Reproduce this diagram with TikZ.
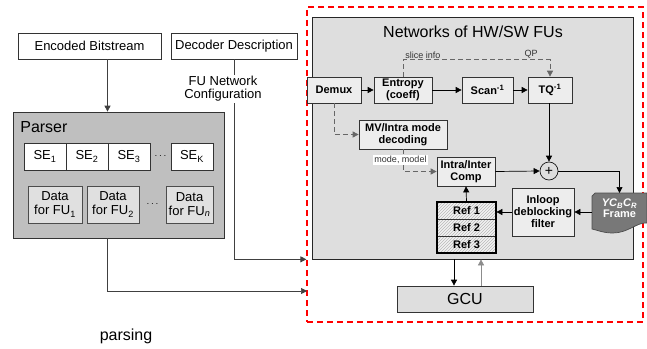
\documentclass[tikz,border=0pt]{standalone}
\usepackage{fontspec}
\setmainfont{Liberation Sans}
\usetikzlibrary{arrows.meta,patterns}
\tikzset{
  arr/.style={-{Triangle[length=6pt,width=6pt]}},
  dsh/.style={dash pattern=on 5pt off 3pt, draw=black!60},
  outbox/.style={draw=black!80, fill=white, inner sep=0pt, font=\fontsize{13}{14}\selectfont},
  sebox/.style={draw=black!80, fill=white, inner sep=0pt, minimum height=27, font=\fontsize{13}{14}\selectfont},
  databox/.style={draw=black!70, fill=black!12, inner sep=0pt, minimum height=37, align=center, font=\fontsize{13}{14}\selectfont},
  fubox/.style={draw=black!80, fill=black!7, inner sep=0pt, align=center, font=\fontsize{11}{12}\selectfont\bfseries},
  refcell/.style={draw=black!80, preaction={fill=black!5}, pattern=north east lines, pattern color=black!28,
    minimum width=59, minimum height=17, inner sep=0pt, font=\fontsize{11}{12}\selectfont\bfseries},
  smalllbl/.style={font=\fontsize{9}{10}\selectfont, text=black!80, inner sep=1pt}
}
\begin{document}
\begin{tikzpicture}[x=1pt,y=-1pt, line width=0.7pt]
\useasboundingbox (0,0) rectangle (647,348);
% inputs and parser
\node[outbox, minimum width=143, minimum height=26] (enc) at (89.5,46) {Encoded Bitstream};
\node[outbox, minimum width=126, minimum height=26] (desc) at (234,46) {Decoder Description};
\node[draw=black!80, fill=black!25, minimum width=211, minimum height=126] (parser) at (118.5,175) {};
\node[anchor=west, inner sep=0pt, font=\fontsize{16}{18}\selectfont] (ptitle) at (20,127) {Parser};
\node[sebox, minimum width=42] (se1) at (45,156.5) {SE\textsubscript{1}};
\node[sebox, minimum width=42] (se2) at (87,156.5) {SE\textsubscript{2}};
\node[sebox, minimum width=42] (se3) at (129,156.5) {SE\textsubscript{3}};
\node (sedots) at (160.5,156.5) {$\cdots$};
\node[sebox, minimum width=42] (sek) at (192,156.5) {SE\textsubscript{K}};
\node[databox, minimum width=54] (dat1) at (55,204.5) {Data\\for FU\textsubscript{1}};
\node[databox, minimum width=52] (dat2) at (113,204.5) {Data\\for FU\textsubscript{2}};
\node (datdots) at (152.5,204.5) {$\cdots$};
\node[databox, minimum width=47] (datn) at (189.5,204.5) {Data\\for FU\textsubscript{\itshape n}};
\node[font=\fontsize{16}{18}\selectfont] (parsing) at (126,336) {parsing};
% network of FUs
\node[draw=red, line width=1.2pt, dash pattern=on 6pt off 4pt, minimum width=336, minimum height=315] (grp) at (475,164.5) {};
\node[draw=black!85, fill=black!13, minimum width=321, minimum height=242] (net) at (472.5,138) {};
\node[font=\fontsize{16}{18}\selectfont] (ntitle) at (473,32) {Networks of HW/SW FUs};
\node[fubox, minimum width=54, minimum height=26] (demux) at (334,90) {Demux};
\node[fubox, minimum width=58, minimum height=26] (entropy) at (403,90) {Entropy\\(coeff)};
\node[fubox, minimum width=51, minimum height=26] (scan) at (487.5,90) {Scan\textsuperscript{-1}};
\node[fubox, minimum width=44, minimum height=26] (tq) at (550,90) {TQ\textsuperscript{-1}};
\node[fubox, minimum width=88, minimum height=29] (mv) at (403,134.5) {MV/Intra mode\\decoding};
\node[fubox, minimum width=58, minimum height=29] (comp) at (466,171.5) {Intra/Inter\\Comp};
\node[draw=black!90, circle, minimum size=18, inner sep=0pt, font=\fontsize{14}{14}\selectfont] (plus) at (549,171) {+};
\node[fubox, minimum width=62, minimum height=48] (inloop) at (543,212) {Inloop\\deblocking\\filter};
\node[refcell] (ref1) at (466.5,210.5) {Ref 1};
\node[refcell] (ref2) at (466.5,227.5) {Ref 2};
\node[refcell] (ref3) at (466.5,244.5) {Ref 3};
\draw[line width=1.8pt] (ref1.north west) rectangle (ref3.south east);
\fill[black!53, draw=black!70] (592,196) -- (595,193) -- (647,193) -- (647,223)
  .. controls (637,222) and (628,233) .. (613,233)
  .. controls (603,233) and (597,230) .. (592,229) -- cycle;
\node[anchor=north, minimum width=55, minimum height=30, inner sep=0pt, align=center, text=white,
  font=\fontsize{11}{11}\selectfont\bfseries] (frame) at (619.5,193) {\textit{YC\textsubscript{B}C\textsubscript{R}}\\Frame};
\node[draw=black!80, fill=black!13, minimum width=136, minimum height=26, font=\fontsize{16}{18}\selectfont] (gcu) at (465,299) {GCU};
% connectors
\coordinate (pipe) at (107.5,0);
\coordinate (parsin) at (307,291);
\draw[arr, black!75] (enc.south -| pipe) -- (parser.north -| pipe);
\draw[arr, black!75] (parser.south -| pipe) |- (parsin);
\draw[arr, black!75] (desc.south) |- (net.south -| grp.west);
\node[fill=white, inner sep=1pt, align=center, font=\fontsize{13}{13}\selectfont] (cfg) at (223,89) {FU Network\\Configuration};
\draw[arr] (demux) -- (entropy);
\draw[arr] (entropy) -- (scan);
\draw[arr] (scan) -- (tq);
\draw[dsh, arr] (entropy.north) -- ++(0,-17) -| (tq.north);
\node[smalllbl, anchor=south west] (slice) at (404,60) {slice info};
\node[smalllbl, anchor=south] (qp) at (531,60) {QP};
\draw[dsh, arr] (demux.south) |- (mv.west);
\draw[dsh, arr] (mv.south) |- (comp.west);
\node[smalllbl, fill=white] (mode) at (400.5,160) {mode, model};
\draw[arr] (tq.south -| plus.north) -- (plus.north);
\draw[arr] (comp.east) -- (plus.west);
\draw[arr] (plus.east) -| (frame.north);
\draw[arr] (inloop.east -| frame.west) -- (inloop.east);
\draw[arr] (inloop.west) -- (inloop.west -| ref1.east);
\draw[arr] (ref1.north) -- (comp.south);
\draw[arr] ([xshift=-11]gcu.north |- net.south) -- ([xshift=-11]gcu.north);
\draw[arr, black!45] ([xshift=16]gcu.north) -- ([xshift=16]gcu.north |- net.south);
\end{tikzpicture}
\end{document}
